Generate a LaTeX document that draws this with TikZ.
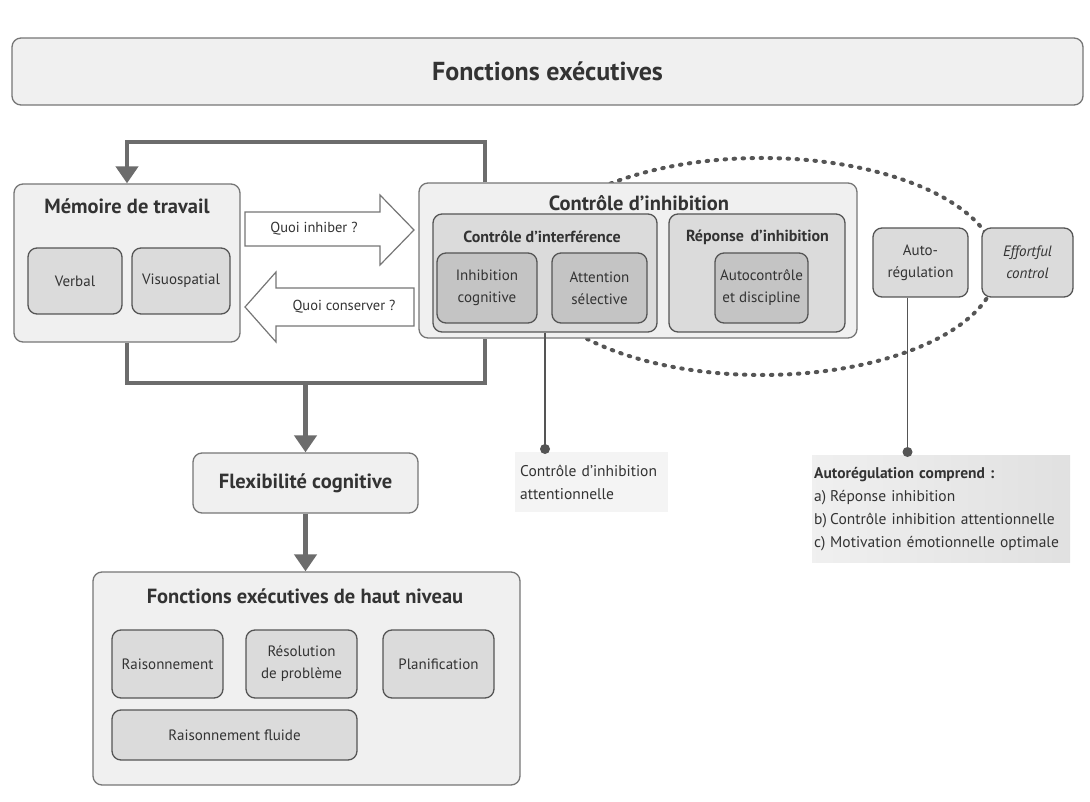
\documentclass[tikz,border=0pt]{standalone}
\usepackage{fontspec}
\setmainfont{PT Sans}
\usetikzlibrary{arrows.meta,calc}
\definecolor{edge}{HTML}{767676}
\definecolor{dark}{HTML}{555555}
\definecolor{txt}{HTML}{333333}
\definecolor{lvlone}{HTML}{F0F0F0}
\definecolor{lvltwo}{HTML}{DBDBDB}
\definecolor{lvlthree}{HTML}{C4C4C4}
\definecolor{flowc}{HTML}{6C6C6C}
\begin{document}
\begin{tikzpicture}[x=1pt,y=-1pt,
  box/.style={draw=edge, line width=1.3pt, rounded corners=9pt, inner sep=0pt, text=txt, align=center},
  outerbox/.style={box, fill=lvlone},
  midbox/.style={box, fill=lvltwo, draw=dark},
  innerbox/.style={box, fill=lvlthree, draw=dark, font=\fontsize{15}{22}\selectfont},
  sidebox/.style={box, fill=lvltwo, draw=dark, font=\fontsize{15}{22}\selectfont},
  bigtitle/.style={font=\bfseries\fontsize{20.5}{24}\selectfont, text=txt, inner sep=0pt},
  subtitle/.style={font=\bfseries\fontsize{16}{19}\selectfont, text=txt, inner sep=0pt},
  flow/.style={draw=flowc, line width=4.5pt},
  flowarrow/.style={flow, -{Triangle[length=17pt,width=22pt]}},
  blockarrow/.style={draw=edge, line width=1.2pt, fill=white, line join=miter},
  arrowtext/.style={font=\fontsize{14.5}{17}\selectfont, text=txt, inner sep=0pt},
  leader/.style={draw=dark, line width=1.3pt},
  dotend/.style={circle, fill=dark, inner sep=0pt, minimum size=10pt},
  notebox/.style={anchor=north west, text=txt, align=left, font=\fontsize{15.5}{23}\selectfont},
  dottedring/.style={draw=dark, line width=4pt, line cap=round, dash pattern=on 1.5pt off 7.5pt}
]
\useasboundingbox[fill=white] (0,0) rectangle (1090,802);

% title
\node[box, fill=lvlone, minimum width=1071pt, minimum height=67pt] (title) at (547.5,71.5) {};
\node[font=\bfseries\fontsize{26}{30}\selectfont, text=txt, inner sep=0pt] (titletext) at (title.center) {Fonctions exécutives};

% dotted ellipse (behind the boxes)
\draw[dottedring] (762,266.5) ellipse [x radius=235pt, y radius=108.5pt];

% Mémoire de travail
\node[outerbox, minimum width=226pt, minimum height=158pt] (mem) at (127,263) {};
\node[bigtitle] (memtitle) at (127,206) {Mémoire de travail};
\node[sidebox, minimum width=94pt, minimum height=66pt] (verbal) at (75,281) {Verbal};
\node[sidebox, minimum width=98pt, minimum height=66pt] (visuo) at (181,281) {Visuospatial};

% Contrôle d'inhibition
\node[outerbox, minimum width=438pt, minimum height=155pt] (cinh) at (638,260.5) {};
\node[bigtitle] (cinhtitle) at (639,203) {Contrôle d’inhibition};
\node[midbox, minimum width=224pt, minimum height=118pt] (cint) at (545,273) {};
\node[subtitle] (cinttitle) at (542,237) {Contrôle d’interférence};
\node[innerbox, minimum width=100pt, minimum height=70pt] (inhcog) at (487,288) {Inhibition\\cognitive};
\node[innerbox, minimum width=95pt, minimum height=70pt] (attsel) at (599.5,288) {Attention\\sélective};
\node[midbox, minimum width=176pt, minimum height=118pt] (rep) at (757,273) {};
\node[subtitle] (reptitle) at (757.5,237) {Réponse\, d’inhibition};
\node[innerbox, minimum width=93pt, minimum height=70pt] (autoc) at (761.5,288) {Autocontrôle\\et discipline};

% Auto-régulation / Effortful control
\node[sidebox, minimum width=95pt, minimum height=69pt] (autoreg) at (920.5,262.5) {Auto-\\régulation};
\node[sidebox, minimum width=91pt, minimum height=69pt, font=\itshape\fontsize{15}{22}\selectfont] (effort) at (1027.5,262.5) {Effortful\\control};

% block arrows
\draw[blockarrow] (245,212) -- (380,212) -- (380,195) -- (414,230) -- (380,265) -- (380,246) -- (245,246) -- cycle;
\node[arrowtext] (quoiinh) at (314,229) {Quoi inhiber ?};
\draw[blockarrow] (414,288) -- (276,288) -- (276,272) -- (245,307) -- (276,342) -- (276,326) -- (414,326) -- cycle;
\node[arrowtext] (quoicons) at (344,307) {Quoi conserver ?};

% feedback loop
\coordinate (lr) at (485,0);
\coordinate (looptop) at (0,142);
\coordinate (loopbot) at (0,383);
\draw[flowarrow] (cinh.north -| lr) |- (mem.north |- looptop) -- (mem.north);
\draw[flow] (mem.south) |- (lr |- loopbot) -- (cinh.south -| lr);

% Flexibilité cognitive
\node[outerbox, minimum width=225pt, minimum height=60pt, font=\bfseries\fontsize{20.5}{24}\selectfont] (flex) at (305.5,483) {Flexibilité cognitive};
\draw[flowarrow] (flex.north |- loopbot) -- (flex.north);

% Fonctions exécutives de haut niveau
\node[outerbox, minimum width=427pt, minimum height=213pt] (haut) at (306.5,678.5) {};
\node[bigtitle] (hauttitle) at (305,596) {Fonctions exécutives de haut niveau};
\draw[flowarrow] (flex.south) -- (flex.south |- haut.north);
\node[sidebox, minimum width=111pt, minimum height=68pt] (rais) at (167.5,664) {Raisonnement};
\node[sidebox, minimum width=111pt, minimum height=68pt] (reso) at (301.5,664) {Résolution\\de problème};
\node[sidebox, minimum width=111pt, minimum height=68pt] (plan) at (438.5,664) {Planification};
\node[sidebox, minimum width=245pt, minimum height=50pt] (fluide) at (234.5,735) {Raisonnement fluide};

% notes
\node[notebox, fill=gray!9, text width=143pt, inner xsep=5pt, inner ysep=0pt, minimum height=60pt] (noteone) at (515,452) {Contrôle d’inhibition\\attentionnelle};
\node[notebox, left color=gray!12, right color=gray!24, text width=254pt, inner xsep=2pt, inner ysep=0pt, minimum height=107pt] (notetwo) at (812,455) {\textbf{Autorégulation comprend :}\\\makebox[16pt][l]{a)}Réponse inhibition\\\makebox[16pt][l]{b)}Contrôle inhibition attentionnelle\\\makebox[16pt][l]{c)}Motivation émotionnelle optimale};

% leaders
\coordinate (dotone) at (543,449);
\coordinate (dottwo) at (907,452);
\draw[leader] (cint.south) -- (cint.south |- dotone);
\node[dotend] (dotonemark) at (cint.south |- dotone) {};
\draw[leader] ([xshift=-13pt]autoreg.south) -- ([xshift=-13pt]autoreg.south |- dottwo);
\node[dotend] (dottwomark) at ([xshift=-13pt]autoreg.south |- dottwo) {};
\end{tikzpicture}
\end{document}
